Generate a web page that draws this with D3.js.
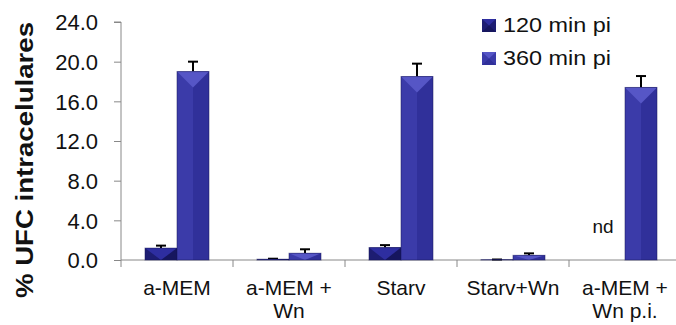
<!DOCTYPE html>
<html>
<head>
<meta charset="utf-8">
<script src="https://cdn.jsdelivr.net/npm/d3@7"></script>
<style>
  body { margin: 0; background: #fff; }
  svg { font-family: "Liberation Sans", Arial, sans-serif; }
</style>
</head>
<body>
<svg id="chart" width="676" height="325"></svg>
<script>
// Data
const categories = [["a-MEM"], ["a-MEM +", "Wn"], ["Starv"], ["Starv+Wn"], ["a-MEM +", "Wn p.i."]];
const series = ["120 min pi", "360 min pi"];
const values120 = [1.2, 0.08, 1.25, 0.03, null];
const errors120 = [0.25, 0.05, 0.25, 0.02, null];
const values360 = [19.0, 0.68, 18.5, 0.47, 17.4];
const errors360 = [1.0, 0.4, 1.3, 0.2, 1.15];
const yTicks = [0, 4, 8, 12, 16, 20, 24];

const colors = {
    "120 min pi": { base: "#1d1d72", light: "#2e2ea0", dark: "#16165e" },
    "360 min pi": { base: "#3b3ba9", light: "#5656c6", dark: "#30309a" }
};

const svg = d3.select("#chart");
const margin = { left: 121, top: 22, bottom: 65 };
const height = 325;

const y = d3.scaleLinear().domain([0, 24]).range([height - margin.bottom, margin.top]);
const x0 = d3.scaleBand().domain(d3.range(categories.length)).range([121, 681]);
const x1 = d3.scaleBand().domain(series).range([24, 88]);

// axes
const yAxis = svg.append("g")
    .attr("transform", `translate(${margin.left},0)`)
    .call(d3.axisLeft(y).tickValues(yTicks).tickFormat(d3.format(".1f")).tickSize(7).tickPadding(16));
yAxis.select(".domain").attr("stroke", "#888").attr("d", `M-7,${y(24)}H0V${y(0)}`);
yAxis.selectAll(".tick line").attr("stroke", "#888");
yAxis.selectAll(".tick text").attr("font-size", 22).attr("fill", "#111").attr("dy", "0.36em")
    .attr("font-family", "Liberation Sans, Arial, sans-serif");

const xAxisG = svg.append("g");
xAxisG.append("line")
    .attr("x1", margin.left).attr("x2", 681)
    .attr("y1", y(0)).attr("y2", y(0))
    .attr("stroke", "#888");
xAxisG.selectAll("line.tk")
    .data(d3.range(categories.length + 1))
    .enter().append("line")
    .attr("class", "tk")
    .attr("x1", i => 121 + i * x0.step()).attr("x2", i => 121 + i * x0.step())
    .attr("y1", y(0)).attr("y2", y(0) + 7)
    .attr("stroke", "#888");

const labels = xAxisG.selectAll("text.cat")
    .data(categories)
    .enter().append("text")
    .attr("class", "cat")
    .attr("x", (d, i) => x0(i) + x0.bandwidth() / 2)
    .attr("y", 295)
    .attr("text-anchor", "middle")
    .attr("font-size", 21)
    .attr("fill", "#111");
labels.each(function(d) {
    const t = d3.select(this);
    d.forEach((line, j) => {
        t.append("tspan")
            .attr("x", t.attr("x"))
            .attr("dy", j === 0 ? 0 : 23)
            .text(line);
    });
});

// y title
svg.append("text")
    .attr("transform", "translate(33,160) rotate(-90)")
    .attr("text-anchor", "middle")
    .attr("font-size", 23)
    .attr("font-weight", "bold")
    .attr("fill", "#111")
    .attr("textLength", 276)
    .attr("lengthAdjust", "spacingAndGlyphs")
    .text("% UFC intracelulares");

// bevelled bar
function drawBar(g, bx, bw, v, c) {
    const top = y(v), bottom = y(0), h = bottom - top;
    const half = bw / 2;
    const tri = Math.min(half, h);
    g.append("rect").attr("x", bx).attr("y", top).attr("width", bw).attr("height", h).attr("fill", c.base);
    g.append("rect").attr("x", bx + half).attr("y", top).attr("width", half).attr("height", h).attr("fill", c.dark);
    g.append("path")
        .attr("d", `M${bx},${top}H${bx + bw}L${bx + half},${top + tri}Z`)
        .attr("fill", c.light);
    g.append("rect").attr("x", bx).attr("y", top).attr("width", bw).attr("height", h)
        .attr("fill", "none").attr("stroke", "#15155a").attr("stroke-opacity", 0.5).attr("stroke-width", 1);
}

const seriesData = [
    { name: series[0], vals: values120, errs: errors120 },
    { name: series[1], vals: values360, errs: errors360 }
];

const barsG = svg.append("g");
seriesData.forEach(s => {
    s.vals.forEach((v, i) => {
        if (v === null) return;
        const bx = x0(i) + x1(s.name);
        const bw = x1.bandwidth();
        const g = barsG.append("g");
        const e = s.errs[i];
        const cx = bx + bw / 2;
        g.append("line").attr("x1", cx).attr("x2", cx).attr("y1", y(v)).attr("y2", y(v + e))
            .attr("stroke", "#000").attr("stroke-width", 2);
        g.append("line").attr("x1", cx - 5).attr("x2", cx + 5).attr("y1", y(v + e)).attr("y2", y(v + e))
            .attr("stroke", "#000").attr("stroke-width", 2);
        drawBar(g, bx, bw, v, colors[s.name]);
    });
});

// nd label
svg.append("text")
    .attr("x", x0(4) + x1(series[0]) + x1.bandwidth() / 2 - 6)
    .attr("y", 233)
    .attr("text-anchor", "middle")
    .attr("font-size", 19)
    .attr("fill", "#111")
    .text("nd");

// legend
const legend = svg.append("g").attr("transform", "translate(482,19)");
series.forEach((s, i) => {
    const lg = legend.append("g").attr("transform", `translate(0,${i * 33})`);
    const c = colors[s];
    lg.append("rect").attr("width", 14).attr("height", 13).attr("fill", c.base);
    lg.append("path").attr("d", "M0,0H14L7,6.5Z").attr("fill", c.light);
    lg.append("path").attr("d", "M0,13H14L7,6.5Z").attr("fill", c.dark);
    lg.append("text").attr("x", 21).attr("y", 13).attr("font-size", 21).attr("fill", "#111")
        .attr("textLength", 108).attr("lengthAdjust", "spacingAndGlyphs").text(s);
});
</script>
</body>
</html>
